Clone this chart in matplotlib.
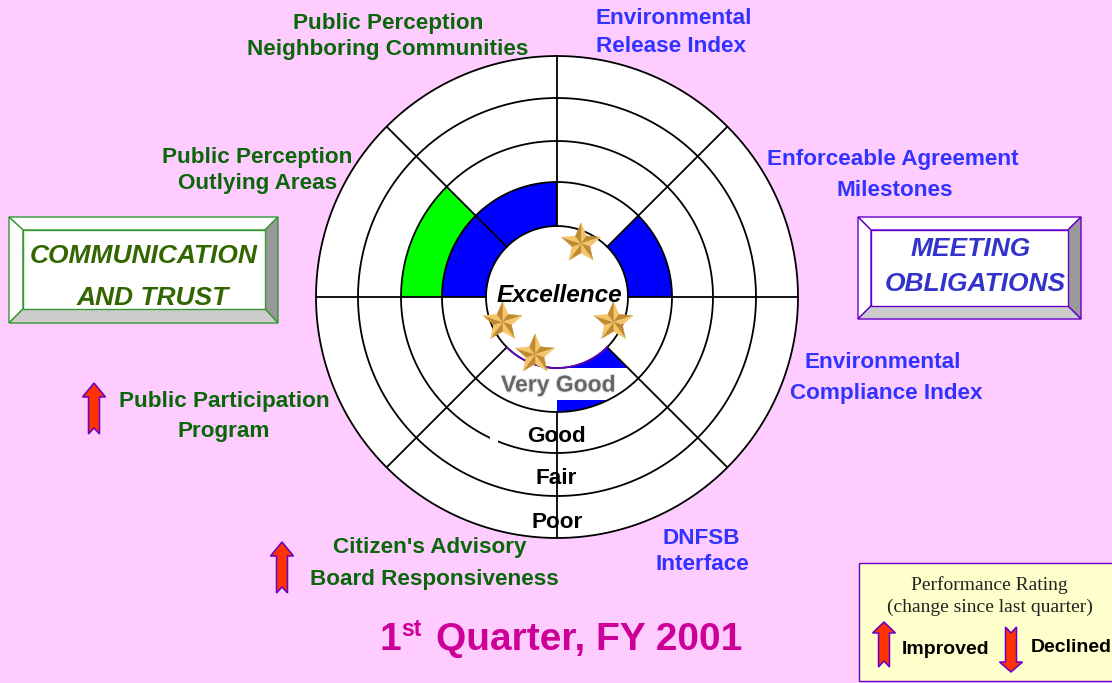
import numpy as np
import matplotlib
matplotlib.use('Agg')
import matplotlib.pyplot as plt
import matplotlib.patheffects as pe
from matplotlib.patches import Polygon, Rectangle

# sectors clockwise from 12 o'clock, rating: 0 excellent .. 4 poor
sector_names = ['Environmental Release Index', 'Enforceable Agreement Milestones',
                'Environmental Compliance Index', 'DNFSB Interface',
                "Citizen's Advisory Board Responsiveness", 'Public Participation Program',
                'Public Perception Outlying Areas', 'Public Perception Neighboring Communities']
sector_rating = [0, 1, 0, 1, 0, 0, 2, 1]
level_names = ['Excellence', 'Very Good', 'Good', 'Fair', 'Poor']
ring_radii = [71, 115, 156, 199, 241]

W, H = 1112, 683
CX, CY = 557, 297
BG = '#FFCCFF'
GREEN = '#0B660B'
BLUE = '#3333FF'
PURPLE = '#6600CC'
SANS = 'Liberation Sans'

fig = plt.figure(figsize=(W/100, H/100), dpi=100, facecolor=BG)

ov = fig.add_axes([0, 0, 1, 1], zorder=2)
ov.set_xlim(0, W)
ov.set_ylim(H, 0)
ov.axis('off')
ov.patch.set_alpha(0)

R = ring_radii[-1]
pax = fig.add_axes([(CX-R)/W, 1-(CY+R)/H, 2*R/W, 2*R/H], projection='polar', zorder=1)
pax.set_theta_zero_location('N')
pax.set_theta_direction(-1)
pax.set_axis_off()
pax.patch.set_alpha(0)
pax.set_rlim(0, R)

n = len(sector_rating)
width = 2*np.pi/n
centers = (np.arange(n)+0.5)*width
tt = np.linspace(0, 2*np.pi, 400)

# white disc first
pax.fill_between(tt, 0, R, color='white', zorder=1, lw=0)

# fills: rated level in green/blue
for th, rating in zip(centers, sector_rating):
    if rating >= 1:
        pax.bar(th, ring_radii[1]-ring_radii[0], width=width, bottom=ring_radii[0],
                color='#0000FF', lw=0, zorder=2)
    if rating >= 2:
        pax.bar(th, ring_radii[2]-ring_radii[1], width=width, bottom=ring_radii[1],
                color='#00FF00', lw=0, zorder=2)

# white strip behind the Very Good label
pax.add_patch(Rectangle((497, 368), 142, 32, transform=ov.transData, fc='white', ec='none', zorder=3))
pax.add_patch(Rectangle((490, 436), 8, 8, transform=ov.transData, fc='white', ec='none', zorder=5))

# rings
for r in ring_radii:
    pax.plot(tt, np.full_like(tt, r), color='black', lw=1.3, zorder=4, clip_on=False)
arc = np.linspace(3*np.pi/4, 5*np.pi/4, 60)
pax.plot(arc, np.full_like(arc, ring_radii[0]), color=PURPLE, lw=1.2, zorder=4.5)

# spokes
for i in range(n):
    th = i*width
    start = ring_radii[1] if i == 4 else ring_radii[0]
    pax.plot([th, th], [start, R], color='black', lw=1.3, zorder=4)
pax.set_rlim(0, R)


def to_px(th, r):
    return ov.transData.inverted().transform(pax.transData.transform((th, r)))


def star(x, y, size):
    ang = np.radians(-90 + 36*np.arange(10))
    rad = np.where(np.arange(10) % 2 == 0, size, size*0.46)
    px = x + rad*np.cos(ang)
    py = y + rad*np.sin(ang)
    for i in range(10):
        j = (i+1) % 10
        col = '#F3C66B' if i % 2 == 0 else '#C08A30'
        ov.add_patch(Polygon([(x, y), (px[i], py[i]), (px[j], py[j])], fc=col, ec=col, lw=0.3, zorder=6))


for th, rating in zip(centers, sector_rating):
    if rating == 0:
        sx, sy = to_px(th, 60)
        star(sx+1, sy+2, 20.5)


def bevel_box(x0, y0, x1, y1, ix0, iy0, ix1, iy1, edge):
    faces = [([(x0, y0), (x1, y0), (ix1, iy0), (ix0, iy0)], 'white'),
             ([(x0, y0), (ix0, iy0), (ix0, iy1), (x0, y1)], 'white'),
             ([(x1, y0), (x1, y1), (ix1, iy1), (ix1, iy0)], '#999999'),
             ([(x0, y1), (ix0, iy1), (ix1, iy1), (x1, y1)], '#CCCCCC')]
    for pts, col in faces:
        ov.add_patch(Polygon(pts, fc=col, ec=edge, lw=1.0, zorder=3))
    ov.add_patch(Rectangle((ix0, iy0), ix1-ix0, iy1-iy0, fc='white', ec=edge, lw=1.0, zorder=3))


def arrow(cx, top, bottom, head_len, up=True):
    hw, sw, notch = 11.5, 5.5, 6
    if up:
        pts = [(cx, top), (cx+hw, top+head_len), (cx+sw, top+head_len), (cx+sw, bottom),
               (cx, bottom-notch), (cx-sw, bottom), (cx-sw, top+head_len), (cx-hw, top+head_len)]
    else:
        pts = [(cx, bottom), (cx+hw, bottom-head_len), (cx+sw, bottom-head_len), (cx+sw, top),
               (cx, top+notch), (cx-sw, top), (cx-sw, bottom-head_len), (cx-hw, bottom-head_len)]
    ov.add_patch(Polygon(pts, fc='#FF3300', ec=PURPLE, lw=1.1, zorder=5))


def label(x, y, s, color='black', size=16.2, style='normal', weight='bold', family=SANS, zorder=7):
    return ov.text(x, y+1, s, color=color, fontsize=size, fontstyle=style, fontweight=weight,
                   family=family, ha='center', va='center', zorder=zorder)


# level labels
label(559, 295, level_names[0], size=17.6, style='italic')
t = label(558, 384, level_names[1], color='#666666', size=16.5)
t.set_path_effects([pe.withStroke(linewidth=1.5, foreground='#E8E8E8')])
label(556, 435, level_names[2])
label(556, 478, level_names[3])
label(557, 521, level_names[4])

# sector labels
label(388, 23, 'Public Perception', GREEN)
label(388, 48, 'Neighboring Communities', GREEN)
label(257, 156, 'Public Perception', GREEN)
label(258, 182, 'Outlying Areas', GREEN)
label(224, 400, 'Public Participation', GREEN)
label(224, 431, 'Program', GREEN)
label(430, 547, "Citizen's Advisory", GREEN)
label(434, 578, 'Board Responsiveness', GREEN)
label(674, 18, 'Environmental', BLUE)
label(671, 46, 'Release Index', BLUE)
label(893, 159, 'Enforceable Agreement', BLUE)
label(895, 189, 'Milestones', BLUE)
label(883, 362, 'Environmental', BLUE)
label(886, 392, 'Compliance Index', BLUE)
label(701, 537, 'DNFSB', BLUE)
label(702, 563, 'Interface', BLUE)

# group boxes
bevel_box(9, 217, 278, 323, 23, 230, 265, 309, '#339933')
label(144, 255, 'COMMUNICATION', '#336600', size=19, style='italic')
label(153, 297, 'AND TRUST', '#336600', size=19, style='italic')
bevel_box(858, 217, 1081, 319, 871, 230, 1068, 306, PURPLE)
label(971, 248, 'MEETING', '#3333CC', size=19, style='italic')
label(975, 283, 'OBLIGATIONS', '#3333CC', size=19, style='italic')

# trend arrows
arrow(94, 383, 434, 14)
arrow(282, 542, 593, 14)

# title
tk = dict(color='#CC0099', fontweight='bold', family=SANS, ha='left', va='baseline', zorder=7)
ov.text(380, 650, '1', fontsize=28, **tk)
ov.text(401, 636, 'st', fontsize=16.5, **tk)
ov.text(436, 650, 'Quarter, FY 2001', fontsize=28, **tk)

# legend
ov.add_patch(Rectangle((859, 563), 260, 118, fc='#FFFFCC', ec=PURPLE, lw=1.0, zorder=3))
label(989, 584, 'Performance Rating', '#222222', size=14, weight='normal', family='Liberation Serif')
label(990, 606, '(change since last quarter)', '#222222', size=14, weight='normal', family='Liberation Serif')
arrow(884, 622, 667, 11)
arrow(1011, 627, 672, 10, up=False)
label(946, 648, 'Improved', size=14)
label(1071, 646, 'Declined', size=14)

fig.savefig('out.png', dpi=100, facecolor=BG)
